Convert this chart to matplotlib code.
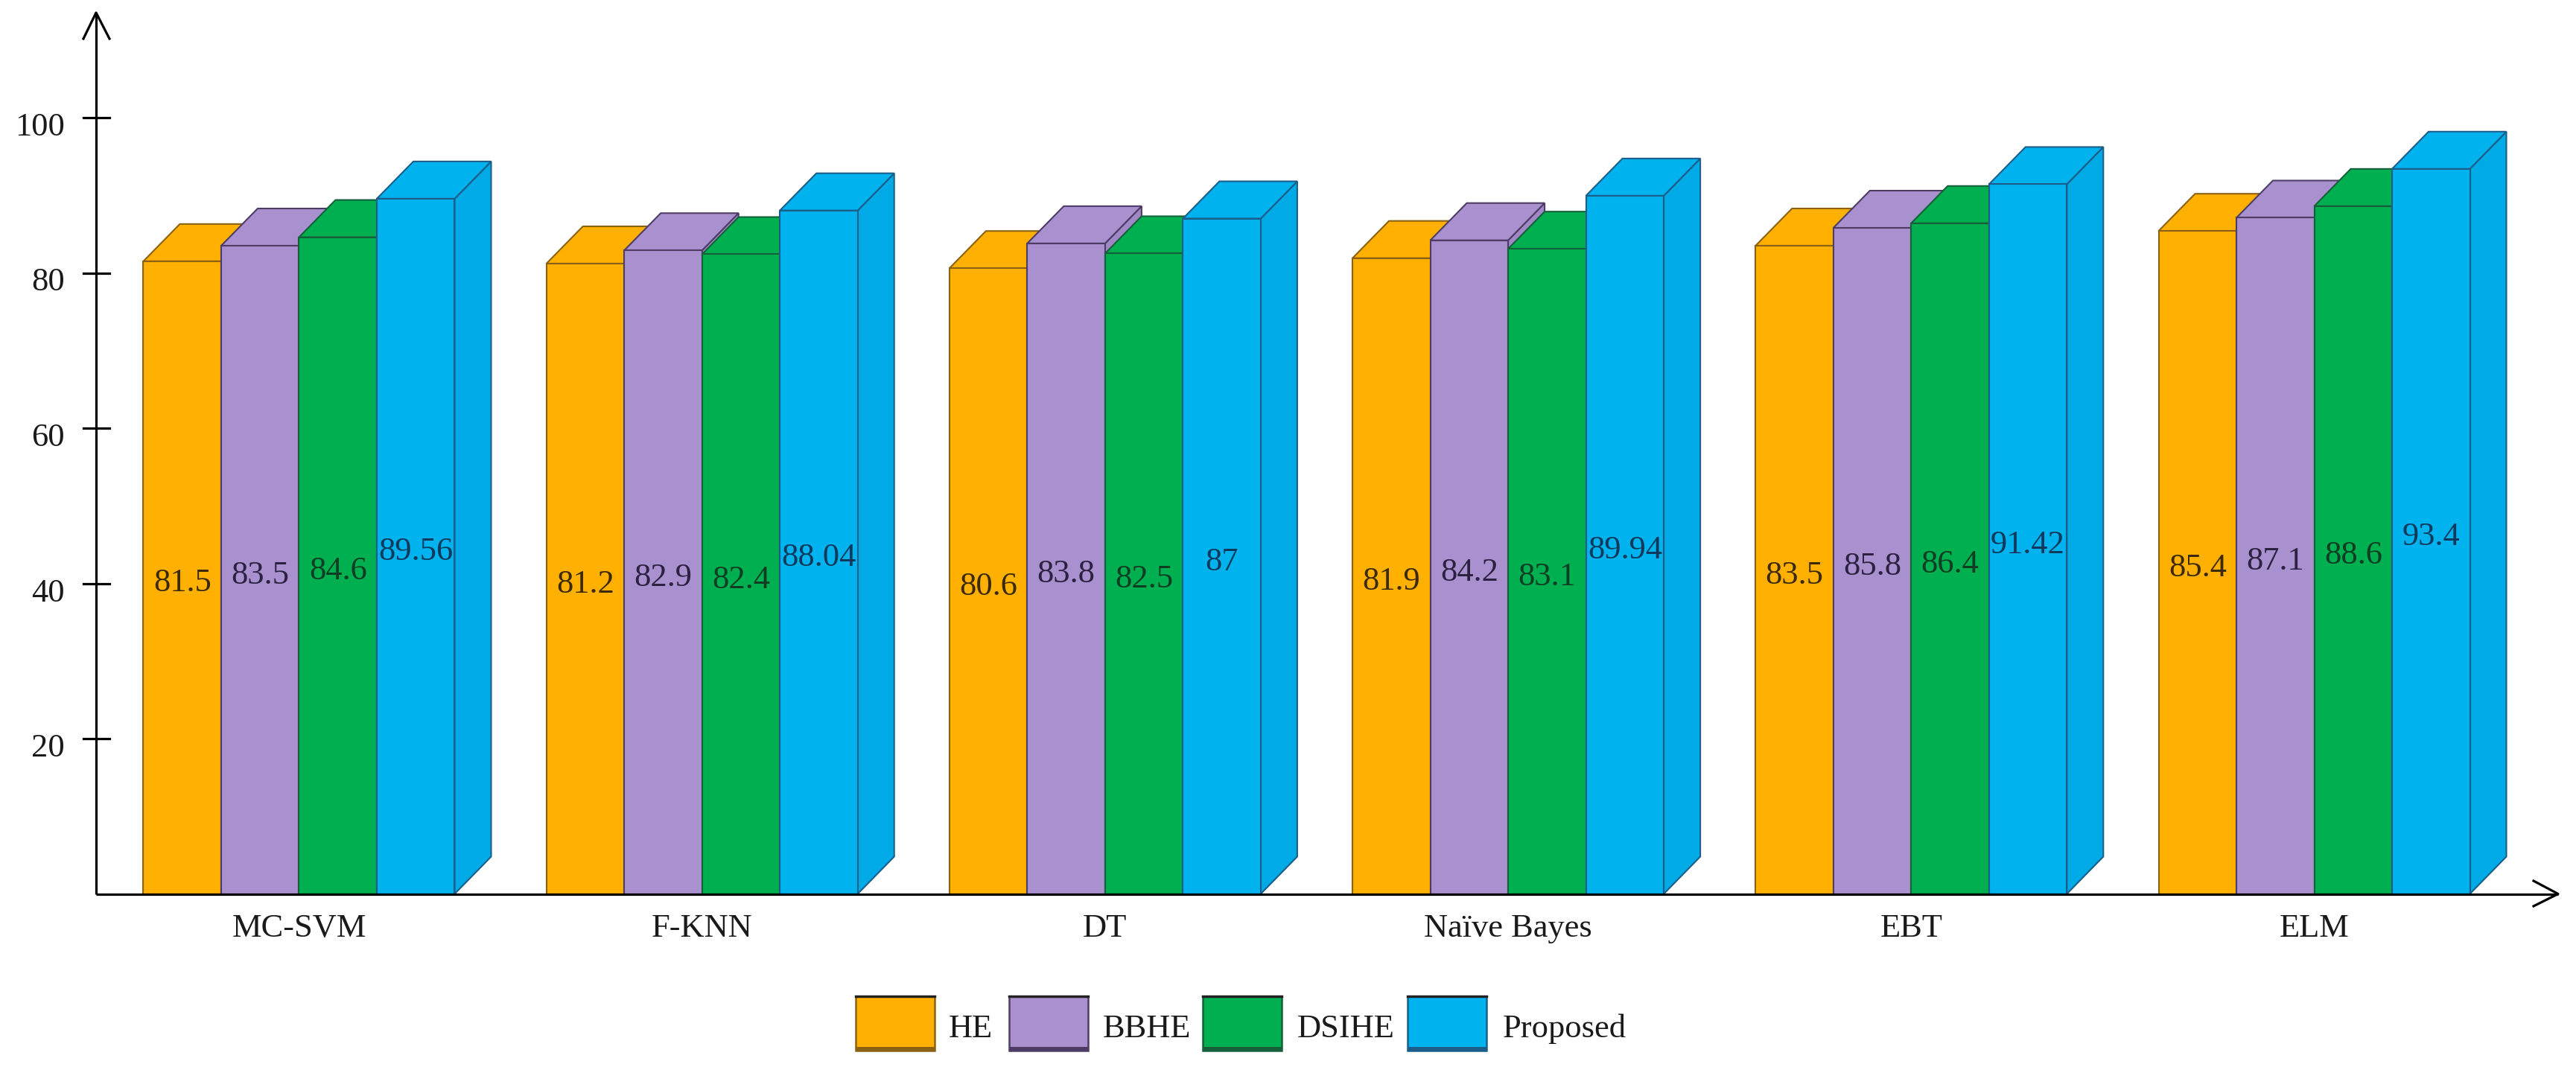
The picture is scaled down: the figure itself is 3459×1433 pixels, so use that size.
import matplotlib
matplotlib.use("Agg")
import matplotlib.pyplot as plt
from matplotlib.patches import Polygon, Rectangle

# ---------------- data ----------------
categories = ["MC-SVM", "F-KNN", "DT", "Naïve Bayes", "EBT", "ELM"]
series_names = ["HE", "BBHE", "DSIHE", "Proposed"]
he = [81.5, 81.2, 80.6, 81.9, 83.5, 85.4]
bbhe = [83.5, 82.9, 83.8, 84.2, 85.8, 87.1]
dsihe = [84.6, 82.4, 82.5, 83.1, 86.4, 88.6]
proposed = [89.56, 88.04, 87, 89.94, 91.42, 93.4]
value_labels = [
    ["81.5", "81.2", "80.6", "81.9", "83.5", "85.4"],
    ["83.5", "82.9", "83.8", "84.2", "85.8", "87.1"],
    ["84.6", "82.4", "82.5", "83.1", "86.4", "88.6"],
    ["89.56", "88.04", "87", "89.94", "91.42", "93.4"],
]
yticks = [20, 40, 60, 80, 100]

# ---------------- style ----------------
face_colors = ["#FFB000", "#A990CE", "#00AF50", "#00B2EE"]
side_colors = ["#F5A800", "#A088C6", "#00A84C", "#00AAE6"]
edge_colors = ["#8A6212", "#4D3D66", "#15603A", "#1B5E8A"]
text_colors = ["#3B2A05", "#2B2140", "#0F3D22", "#0D3A5C"]
FONT = "Liberation Serif"
FS = 32

W_PX, H_PX = 3459, 1433
X0PX, GPX = 401.5, 541.2      # pixel of first group centre, group spacing
Y0PX, YS = 1200.5, 10.425     # pixel of value 0, pixels per unit


def xd(px):
    return (px - X0PX) / GPX


def yd(py):
    return (Y0PX - py) / YS


fig = plt.figure(figsize=(W_PX / 100, H_PX / 100), dpi=100)
ax = fig.add_axes([0, 0, 1, 1])
ax.set_xlim(xd(0), xd(W_PX))
ax.set_ylim(yd(H_PX), yd(0))
ax.axis("off")

BW = 104.5 / GPX
DX = 49 / GPX
DY = 50 / YS

all_series = [he, bbhe, dsihe, proposed]
z = 2
for i, cat in enumerate(categories):
    for j, vals in enumerate(all_series):
        v = vals[i]
        x = i - 2 * BW + j * BW
        ec = edge_colors[j]
        side = Polygon([(x + BW, 0), (x + BW + DX, DY), (x + BW + DX, v + DY), (x + BW, v)],
                       closed=True, facecolor=side_colors[j], edgecolor=ec, lw=1.5, zorder=z)
        top = Polygon([(x, v), (x + DX, v + DY), (x + BW + DX, v + DY), (x + BW, v)],
                      closed=True, facecolor=face_colors[j], edgecolor=ec, lw=1.5, zorder=z)
        front = Rectangle((x, 0), BW, v, facecolor=face_colors[j], edgecolor=ec, lw=1.5, zorder=z)
        ax.add_patch(side)
        ax.add_patch(top)
        ax.add_patch(front)
        z += 1
        ax.text(x + BW / 2, v / 2 - 1.8, value_labels[j][i], ha="center", va="baseline",
                fontsize=FS, family=FONT, color=text_colors[j], zorder=200)
    ax.text(i, yd(1258), cat, ha="center", va="baseline", fontsize=FS, family=FONT,
            color="#1a1a1a", zorder=200)

# axes with arrows
xa = xd(129)
LW = 2.3
ax.plot([xa, xa], [0, yd(17)], color="black", lw=LW, zorder=150, solid_capstyle="butt")
ax.plot([xd(112), xa, xd(147)], [yd(52), yd(17), yd(52)], color="black", lw=LW, zorder=150)
ax.plot([xa, xd(3435)], [0, 0], color="black", lw=LW, zorder=150, solid_capstyle="butt")
ax.plot([xd(3402), xd(3435), xd(3402)], [yd(1183), 0, yd(1217)], color="black", lw=LW, zorder=150)

for t in yticks:
    ax.plot([xd(112), xd(147)], [t, t], color="black", lw=LW, zorder=150)
    ax.text(xd(87), t - 24 / YS, str(t), ha="right", va="baseline", fontsize=FS,
            family=FONT, color="#1a1a1a")

# legend
box_left = [1149, 1355, 1615, 1890]
text_left = [1274, 1481, 1742, 2018]
box_w, box_top, box_bot = 106, 1338, 1411
for j, name in enumerate(series_names):
    bx = xd(box_left[j])
    bw = box_w / GPX
    ax.add_patch(Rectangle((bx, yd(box_bot)), bw, (box_bot - box_top) / YS,
                           facecolor=face_colors[j], edgecolor=edge_colors[j], lw=1.8, zorder=5))
    ax.add_patch(Rectangle((bx, yd(box_bot)), bw, 5 / YS,
                           facecolor=edge_colors[j], edgecolor="none", zorder=6))
    ax.plot([bx, bx + bw], [yd(box_top), yd(box_top)], color="#222222", lw=2.5, zorder=7)
    ax.text(xd(text_left[j]), yd(1393), name, ha="left", va="baseline", fontsize=FS,
            family=FONT, color="#1a1a1a")

fig.savefig("out.png", dpi=100)
